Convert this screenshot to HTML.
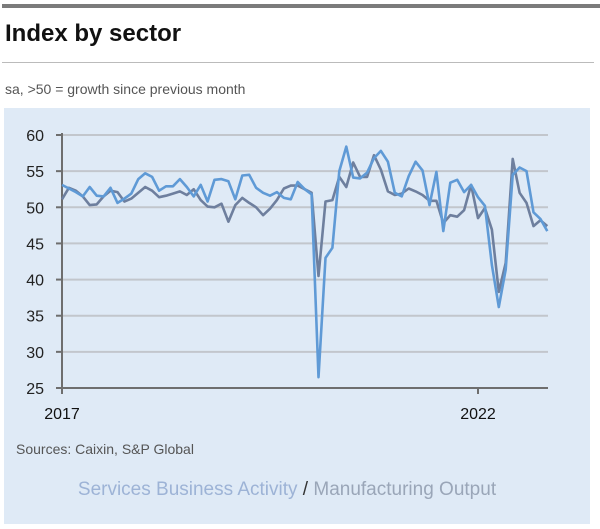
<!DOCTYPE html>
<html><head><meta charset="utf-8"><style>
body{margin:0;width:600px;height:529px;background:#fff;font-family:"Liberation Sans",sans-serif;overflow:hidden;position:relative}
</style></head><body>
<div style="position:absolute;left:2px;top:4px;width:598px;height:4px;background:#7b7b7b"></div>
<div style="position:absolute;left:5px;top:20px;font-size:24px;font-weight:bold;color:#111">Index by sector</div>
<div style="position:absolute;left:2px;top:62px;width:592px;height:1px;background:#bbb"></div>
<div style="position:absolute;left:5px;top:81px;font-size:14px;color:#555">sa, &gt;50 = growth since previous month</div>
<div style="position:absolute;left:4px;top:108px;width:586px;height:416px;background:#dfeaf6"></div>
<svg width="600" height="529" style="position:absolute;left:0;top:0">
<g id="grid"></g><g id="lines"></g>
<text x="16" y="454" font-size="14" fill="#555">Sources: Caixin, S&amp;P Global</text>
<text x="287" y="495" font-size="19" text-anchor="middle"><tspan fill="#9db3d6">Services Business Activity</tspan><tspan fill="#333"> / </tspan><tspan fill="#9aa6b8">Manufacturing Output</tspan></text>
</svg>
<script>
const yTicks=[25,30,35,40,45,50,55,60];
const xTickLabels=["2017","2022"];
const xTickIndex=[0,60];
const services=[53.1,52.6,52.1,51.5,52.8,51.6,51.5,52.7,50.6,51.2,51.9,53.9,54.7,54.2,52.3,52.9,52.9,53.9,52.8,51.5,53.1,50.8,53.8,53.9,53.6,51.1,54.4,54.5,52.7,52.0,51.6,52.1,51.3,51.1,53.5,52.5,51.8,26.5,43.0,44.4,55.0,58.4,54.1,54.0,54.8,56.8,57.8,56.3,52.0,51.5,54.3,56.3,55.1,50.3,54.9,46.7,53.4,53.8,52.1,53.1,51.4,50.2,42.0,36.2,41.4,54.5,55.5,55.0,49.3,48.4,46.7];
const manufacturing=[51.1,52.7,52.3,51.5,50.3,50.4,51.5,52.3,52.1,50.8,51.2,52.0,52.8,52.3,51.4,51.6,51.9,52.2,51.7,52.5,51.0,50.1,50.0,50.5,48.0,50.3,51.3,50.6,50.0,48.9,49.8,51.0,52.6,53.0,53.0,52.5,52.0,40.5,50.8,51.0,54.2,52.8,56.2,54.2,54.2,57.2,55.2,52.2,51.7,51.9,52.6,52.2,51.7,50.9,50.9,47.8,48.9,48.7,49.6,53.1,48.5,49.9,46.9,38.3,42.3,56.7,52.0,50.6,47.4,48.2,47.4];
const X=i=>62+i*(416/60), Y=v=>388-(v-25)*(253/35);
const NS='http://www.w3.org/2000/svg';
const grid=document.getElementById('grid'), lines=document.getElementById('lines');
function mk(t,a,p){const e=document.createElementNS(NS,t);for(const k in a)e.setAttribute(k,a[k]);p.appendChild(e);return e;}
yTicks.forEach(v=>{
 if(v>25){const g=mk('line',{x1:62,x2:548,y1:Y(v),y2:Y(v),stroke:'#c2c6cc','stroke-width':2},grid);
 
 }
 const tk=mk('line',{x1:56,x2:62,y1:Y(v),y2:Y(v),stroke:'#6e6e6e','stroke-width':2},grid);
 
 
 const t=mk('text',{x:44,y:Y(v)+6,'font-size':16,'text-anchor':'end',fill:'#222'},grid);t.textContent=v;
 
 
});
const ya=mk('line',{x1:62,x2:62,y1:Y(60)-2,y2:Y(25),stroke:'#6e6e6e','stroke-width':2},grid);


const xa=mk('line',{x1:56,x2:548,y1:Y(25),y2:Y(25),stroke:'#6e6e6e','stroke-width':2},grid);


xTickIndex.forEach((i,k)=>{
 const tk=mk('line',{x1:X(i),x2:X(i),y1:Y(25),y2:Y(25)+6,stroke:'#6e6e6e','stroke-width':2},grid);
 
 
 const t=mk('text',{x:X(i),y:419,'font-size':16,'text-anchor':'middle',fill:'#111'},grid);t.textContent=xTickLabels[k];
 
 
});
function path(arr,col,name){const d=arr.map((v,i)=>(i?'L':'M')+X(i).toFixed(1)+','+Y(v).toFixed(1)).join('');
 const p=mk('path',{d:d,fill:'none',stroke:col,'stroke-width':2.6,'stroke-linejoin':'round'},lines);
 
 }
path(manufacturing,'#6e7f9e','manufacturing-line');
path(services,'#5f9ad6','services-line');
</script>
</body></html>
